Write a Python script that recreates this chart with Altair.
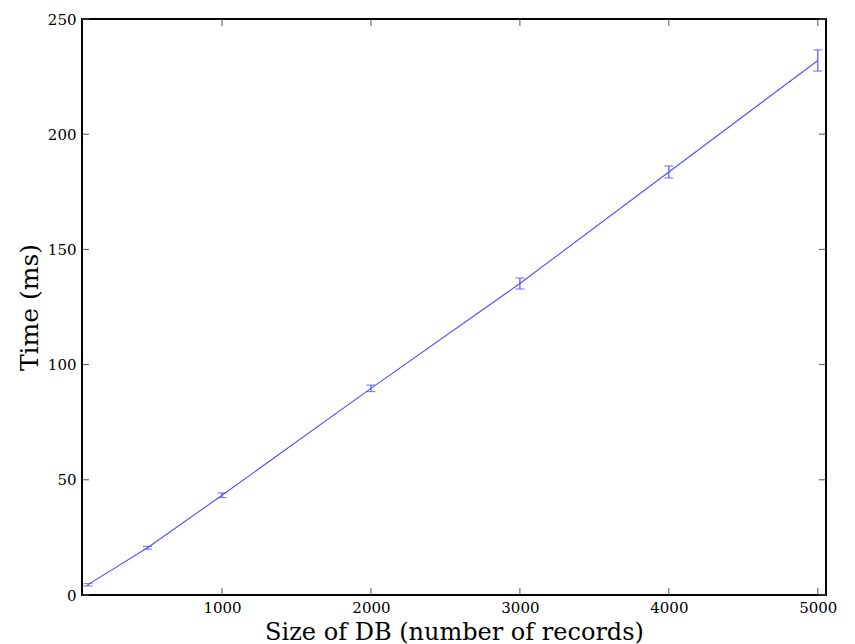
import altair as alt
import pandas as pd

# ---- data ----
sizes = [100, 500, 1000, 2000, 3000, 4000, 5000]
times = [4.5, 20.5, 43.3, 89.7, 135.2, 183.6, 232.0]
errors = [0.5, 0.6, 1.0, 1.4, 2.4, 2.6, 4.6]
x_ticks = [1000, 2000, 3000, 4000, 5000]
y_ticks = [0, 50, 100, 150, 200, 250]

W, H = 744, 576
FONT = "DejaVu Serif"
LINE = "#5050ff"
TICK = "#555555"
TL = 7

df = pd.DataFrame({
    "size": sizes,
    "time": times,
    "lo": [t - e for t, e in zip(times, errors)],
    "hi": [t + e for t, e in zip(times, errors)],
})
dfx = pd.DataFrame({"v": x_ticks})
dfy = pd.DataFrame({"v": y_ticks})

xs = alt.Scale(domain=[60, 5055], nice=False, zero=False)
ys = alt.Scale(domain=[0, 250], nice=False, zero=False)

xaxis = alt.Axis(values=x_ticks, ticks=False, domain=False, grid=False,
                 labelPadding=5, title="Size of DB (number of records)",
                 titlePadding=5, titleFontSize=24, format="d")
yaxis = alt.Axis(values=y_ticks, ticks=False, domain=False, grid=False,
                 labelPadding=6, title="Time (ms)", titlePadding=5,
                 titleFontSize=25, format="d")

base = alt.Chart(df)

line = base.mark_line(color=LINE, strokeWidth=1.1).encode(
    x=alt.X("size:Q", scale=xs, axis=xaxis),
    y=alt.Y("time:Q", scale=ys, axis=yaxis),
)
bars = base.mark_rule(color=LINE, strokeWidth=1.2).encode(
    x=alt.X("size:Q", scale=xs, axis=xaxis),
    y=alt.Y("lo:Q", scale=ys, axis=yaxis),
    y2="hi:Q",
)
cap_lo = base.mark_tick(color=LINE, orient="horizontal", size=9, thickness=1.2).encode(
    x=alt.X("size:Q", scale=xs, axis=xaxis),
    y=alt.Y("lo:Q", scale=ys, axis=yaxis),
)
cap_hi = base.mark_tick(color=LINE, orient="horizontal", size=9, thickness=1.2).encode(
    x=alt.X("size:Q", scale=xs, axis=xaxis),
    y=alt.Y("hi:Q", scale=ys, axis=yaxis),
)

tx = alt.Chart(dfx)
ty = alt.Chart(dfy)
xt_bottom = tx.mark_rule(color=TICK, strokeWidth=1).encode(
    x=alt.X("v:Q", scale=xs, axis=xaxis), y=alt.value(H), y2=alt.value(H - TL))
xt_top = tx.mark_rule(color=TICK, strokeWidth=1).encode(
    x=alt.X("v:Q", scale=xs, axis=xaxis), y=alt.value(0), y2=alt.value(TL))
yt_left = ty.mark_rule(color=TICK, strokeWidth=1).encode(
    y=alt.Y("v:Q", scale=ys, axis=yaxis), x=alt.value(0), x2=alt.value(TL))
yt_right = ty.mark_rule(color=TICK, strokeWidth=1).encode(
    y=alt.Y("v:Q", scale=ys, axis=yaxis), x=alt.value(W), x2=alt.value(W - TL))

chart = alt.layer(
    line, bars, cap_lo, cap_hi, xt_bottom, xt_top, yt_left, yt_right
).properties(
    width=W, height=H,
    autosize=alt.AutoSizeParams(type="none"),
    padding={"left": 74, "top": 11, "right": 20, "bottom": 49},
).configure_view(
    stroke="black", strokeWidth=2
).configure_axis(
    labelFont=FONT, titleFont=FONT, labelFontSize=15,
    labelColor="black", titleColor="black", titleFontWeight="normal",
)

chart.save("out.html", embed_options={"renderer": "svg", "actions": False})
